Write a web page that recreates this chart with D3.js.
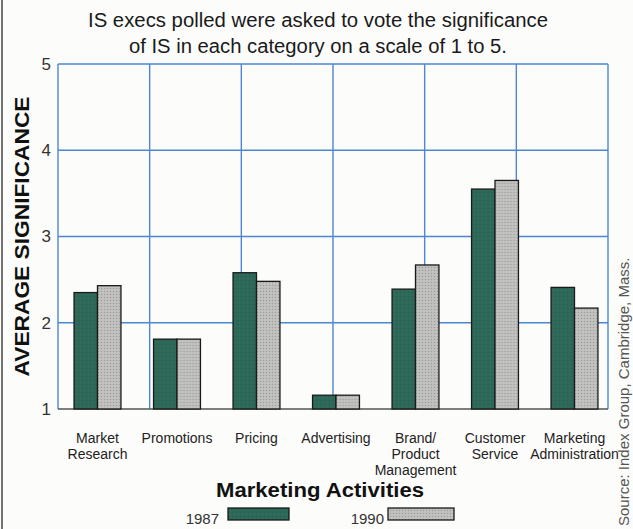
<!DOCTYPE html>
<html>
<head>
<meta charset="utf-8">
<script src="https://cdn.jsdelivr.net/npm/d3@7"></script>
<style>
  html, body { margin: 0; padding: 0; background: #fcfcfa; }
  svg { display: block; font-family: "Liberation Sans", Arial, Helvetica, sans-serif; }
</style>
</head>
<body>
<svg id="chart" width="633" height="529"></svg>
<script>
// ---- data ----
const categories = ["Market Research", "Promotions", "Pricing", "Advertising", "Brand/Product Management", "Customer Service", "Marketing Administration"];
const categoryLabelLines = [["Market", "Research"], ["Promotions"], ["Pricing"], ["Advertising"], ["Brand/", "Product", "Management"], ["Customer", "Service"], ["Marketing", "Administration"]];
const seriesNames = ["1987", "1990"];
const values1987 = [2.35, 1.81, 2.58, 1.16, 2.39, 3.55, 2.41];
const values1990 = [2.43, 1.81, 2.48, 1.16, 2.67, 3.65, 2.17];
const yTicks = [1, 2, 3, 4, 5];
const titleLines = ["IS execs polled were asked to vote the significance", "of IS in each category on a scale of 1 to 5."];
const yTitle = "AVERAGE SIGNIFICANCE";
const xTitle = "Marketing Activities";
const sourceText = "Source: Index Group, Cambridge, Mass.";
const gridColumns = 6;

// ---- layout ----
const svg = d3.select("#chart");
const plot = { left: 58, right: 608, top: 64, bottom: 409 };
const blue = "#4d87d2";

// textures
const defs = svg.append("defs");
const pg = defs.append("pattern").attr("id", "grayTex").attr("width", 3).attr("height", 3).attr("patternUnits", "userSpaceOnUse");
pg.append("rect").attr("width", 3).attr("height", 3).attr("fill", "#bdbdbb");
pg.append("rect").attr("width", 1).attr("height", 1).attr("fill", "#9a9a98");
pg.append("rect").attr("x", 1.5).attr("y", 1.5).attr("width", 1).attr("height", 1).attr("fill", "#d2d2d0");
const pgd = defs.append("pattern").attr("id", "greenTex").attr("width", 4).attr("height", 4).attr("patternUnits", "userSpaceOnUse");
pgd.append("rect").attr("width", 4).attr("height", 4).attr("fill", "#2d6858");
pgd.append("rect").attr("width", 1).attr("height", 1).attr("fill", "#25594b");
pgd.append("rect").attr("x", 2).attr("y", 2).attr("width", 1).attr("height", 1).attr("fill", "#347363");
const fills = { "1987": "url(#greenTex)", "1990": "url(#grayTex)" };

const y = d3.scaleLinear().domain([1, 5]).range([plot.bottom, plot.top]);
const x0 = d3.scaleBand().domain(categories).range([57.75, 614.25]).paddingInner(0.41).paddingOuter(0.205);
const x1 = d3.scaleBand().domain(seriesNames).range([0, x0.bandwidth()]).padding(0);
const gx = d3.scaleLinear().domain([0, gridColumns]).range([plot.left, plot.right]);

// left page border
svg.append("line").attr("x1", 2).attr("x2", 2).attr("y1", 0).attr("y2", 529)
  .attr("stroke", "#444").attr("stroke-width", 1.5);

// title
svg.append("g").selectAll("text").data(titleLines).join("text")
  .attr("x", 318).attr("y", (d, i) => 27 + i * 26)
  .attr("text-anchor", "middle").attr("font-size", 20).attr("fill", "#1a1a1a")
  .attr("textLength", (d, i) => i === 0 ? 460 : 378).attr("lengthAdjust", "spacingAndGlyphs")
  .text(d => d);

// grid
const grid = svg.append("g");
grid.selectAll("line.h").data(yTicks.filter(t => t > 1)).join("line")
  .attr("x1", plot.left).attr("x2", plot.right)
  .attr("y1", d => y(d)).attr("y2", d => y(d))
  .attr("stroke", blue).attr("stroke-width", 1.4);
grid.selectAll("line.v").data(d3.range(0, gridColumns + 1)).join("line")
  .attr("x1", d => gx(d)).attr("x2", d => gx(d))
  .attr("y1", plot.top).attr("y2", plot.bottom)
  .attr("stroke", blue).attr("stroke-width", 1.4);

// baseline
svg.append("line").attr("x1", plot.left).attr("x2", plot.right)
  .attr("y1", y(1)).attr("y2", y(1)).attr("stroke", "#555").attr("stroke-width", 1.4);

// y axis labels
const yAxis = d3.axisLeft(y).tickValues(yTicks).tickSize(0).tickPadding(7).tickFormat(d3.format("d"));
const ya = svg.append("g").attr("transform", `translate(${plot.left},0)`).call(yAxis);
ya.select(".domain").remove();
ya.selectAll("text").attr("font-size", 17).attr("fill", "#333").attr("font-family", "Liberation Sans, Arial, sans-serif");

// bars
const data = categories.map((c, i) => ({ cat: c, vals: [{ s: "1987", v: values1987[i] }, { s: "1990", v: values1990[i] }] }));
const groups = svg.append("g").selectAll("g").data(data).join("g")
  .attr("transform", d => `translate(${x0(d.cat)},0)`);
groups.selectAll("rect").data(d => d.vals).join("rect")
  .attr("x", d => x1(d.s))
  .attr("y", d => y(d.v))
  .attr("width", x1.bandwidth())
  .attr("height", d => y(1) - y(d.v))
  .attr("fill", d => fills[d.s])
  .attr("stroke", "#1a1a1a").attr("stroke-width", 1.3);

// category labels
const labels = svg.append("g").selectAll("text").data(categories).join("text")
  .attr("y", 443)
  .attr("text-anchor", "middle").attr("font-size", 14).attr("fill", "#222");
labels.each(function (d, i) {
  d3.select(this).selectAll("tspan").data(categoryLabelLines[i]).join("tspan")
    .attr("x", x0(d) + x0.bandwidth() / 2)
    .attr("dy", (t, j) => j === 0 ? 0 : 16)
    .text(t => t);
});

// y title
svg.append("text")
  .attr("transform", `translate(29,${(plot.top + plot.bottom) / 2}) rotate(-90)`)
  .attr("text-anchor", "middle").attr("font-size", 20).attr("font-weight", "bold").attr("fill", "#111")
  .attr("textLength", 280).attr("lengthAdjust", "spacingAndGlyphs")
  .text(yTitle);

// x title
svg.append("text").attr("x", 320).attr("y", 497)
  .attr("text-anchor", "middle").attr("font-size", 20).attr("font-weight", "bold").attr("fill", "#111")
  .attr("textLength", 208).attr("lengthAdjust", "spacingAndGlyphs")
  .text(xTitle);

// legend
const legendItems = [{ s: "1987", tx: 219, bx: 228, w: 61 }, { s: "1990", tx: 384, bx: 388, w: 66 }];
const lg = svg.append("g");
lg.selectAll("text").data(legendItems).join("text")
  .attr("x", d => d.tx).attr("y", 524)
  .attr("text-anchor", "end").attr("font-size", 15).attr("fill", "#333")
  .text(d => d.s);
lg.selectAll("rect").data(legendItems).join("rect")
  .attr("x", d => d.bx).attr("y", 508).attr("width", d => d.w).attr("height", 12)
  .attr("fill", d => fills[d.s]).attr("stroke", "#1a1a1a").attr("stroke-width", 1.3);

// source
svg.append("text")
  .attr("transform", "translate(629,526) rotate(-90)")
  .attr("text-anchor", "start").attr("font-size", 15).attr("fill", "#555")
  .text(sourceText);
</script>
</body>
</html>
